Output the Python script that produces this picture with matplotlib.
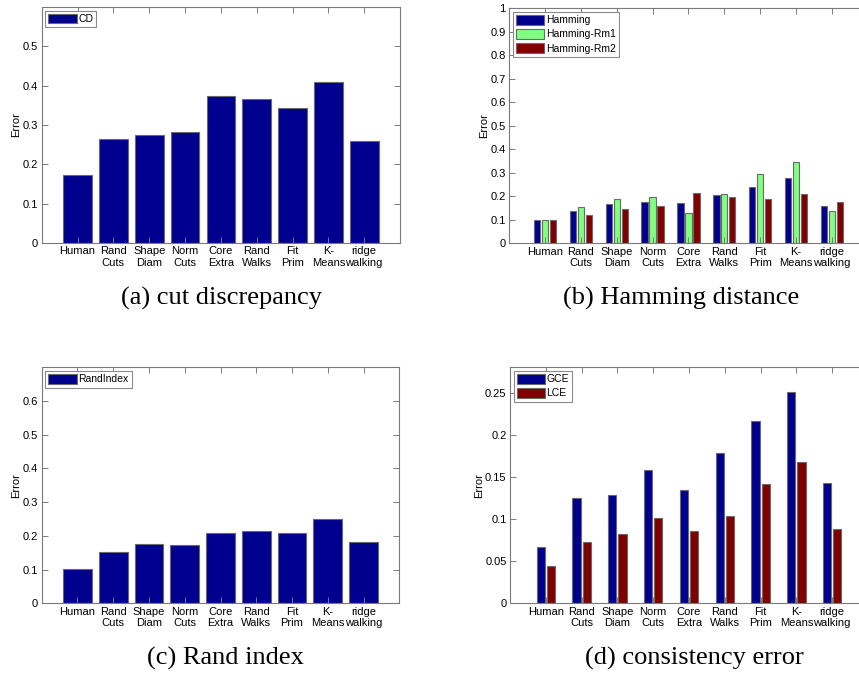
import matplotlib

matplotlib.use("Agg")

import matplotlib.pyplot as plt
import numpy as np
from matplotlib.ticker import FormatStrFormatter

CATEGORIES = ["Human", "Rand\nCuts", "Shape\nDiam", "Norm\nCuts", "Core\nExtra",
              "Rand\nWalks", "Fit\nPrim", "K-\nMeans", "ridge\nwalking"]

CD = [0.173, 0.264, 0.275, 0.283, 0.375, 0.367, 0.342, 0.410, 0.260]

HAMMING = [0.099, 0.136, 0.167, 0.177, 0.170, 0.204, 0.241, 0.278, 0.157]
HAMMING_RM1 = [0.099, 0.153, 0.187, 0.196, 0.128, 0.209, 0.294, 0.345, 0.139]
HAMMING_RM2 = [0.099, 0.119, 0.148, 0.159, 0.213, 0.199, 0.187, 0.211, 0.177]

RAND_INDEX = [0.103, 0.153, 0.176, 0.172, 0.210, 0.213, 0.210, 0.251, 0.181]

GCE = [0.0665, 0.125, 0.129, 0.1586, 0.1345, 0.178, 0.2168, 0.2504, 0.143]
LCE = [0.0443, 0.0728, 0.0823, 0.101, 0.0862, 0.1036, 0.141, 0.1673, 0.0882]

BLUE = "#00008f"
GREEN = "#80ff80"
RED = "#800000"
EDGE = "#6a6a6a"
SPINE = "#7a7a7a"

W, H = 859, 674


def axes_px(fig, left, top, right, bottom):
    return fig.add_axes([left / W, 1 - bottom / H, (right - left) / W, (bottom - top) / H])


def grouped_bars(ax, series, colors, labels):
    x = np.arange(1, len(CATEGORIES) + 1)
    n = len(series)
    if n == 1:
        width, offsets = 0.8, [0.0]
    else:
        group = min(0.8, n / (n + 1.5))
        step = group / n
        width = 0.8 * step
        offsets = (np.arange(n) - (n - 1) / 2) * step
    for vals, color, label, off in zip(series, colors, labels, offsets):
        ax.bar(x + off, vals, width, color=color, edgecolor=EDGE, linewidth=0.8, label=label)


def style(ax, ylim, yticks, fmt="%g"):
    ax.set_xlim(0, 10)
    ax.set_ylim(*ylim)
    ax.set_xticks(np.arange(1, len(CATEGORIES) + 1))
    ax.set_xticklabels(CATEGORIES, linespacing=1.2)
    ax.set_yticks(yticks)
    ax.yaxis.set_major_formatter(FormatStrFormatter(fmt))
    ax.tick_params(direction="in", top=True, right=True, length=4, width=0.7,
                   color=SPINE, labelsize=8, pad=2.5)
    for spine in ax.spines.values():
        spine.set_edgecolor(SPINE)
        spine.set_linewidth(0.8)
    ax.set_ylabel("Error", fontsize=8, labelpad=1)
    ax.legend(loc="upper left", fontsize=7.5, frameon=True, fancybox=False,
              edgecolor="#8a8a8a", framealpha=1, borderaxespad=0.35, borderpad=0.3,
              handlelength=2.7, handleheight=1.05, handletextpad=0.15, labelspacing=0.35)
    ax.get_legend().get_frame().set_linewidth(0.8)


plt.rcParams["font.family"] = ["Liberation Sans", "DejaVu Sans"]

fig = plt.figure(figsize=(W / 100, H / 100), dpi=100)

# (a) cut discrepancy
ax_a = axes_px(fig, 41.7, 7, 400, 243)
grouped_bars(ax_a, [CD], [BLUE], ["CD"])
style(ax_a, (0, 0.6), np.arange(0, 0.51, 0.1))

# (b) Hamming distance
ax_b = axes_px(fig, 509.3, 8.3, 867.6, 243.3)
grouped_bars(ax_b, [HAMMING, HAMMING_RM1, HAMMING_RM2], [BLUE, GREEN, RED],
             ["Hamming", "Hamming-Rm1", "Hamming-Rm2"])
style(ax_b, (0, 1), np.arange(0, 1.01, 0.1))

# (c) Rand index
ax_c = axes_px(fig, 41.7, 367.3, 399.3, 603.3)
grouped_bars(ax_c, [RAND_INDEX], [BLUE], ["RandIndex"])
style(ax_c, (0, 0.7), np.arange(0, 0.61, 0.1))

# (d) consistency error
ax_d = axes_px(fig, 510, 367.3, 868, 603.3)
grouped_bars(ax_d, [GCE, LCE], [BLUE, RED], ["GCE", "LCE"])
style(ax_d, (0, 0.28), np.arange(0, 0.251, 0.05))

captions = [("(a) cut discrepancy", 221, 298), ("(b) Hamming distance", 681, 298),
            ("(c) Rand index", 225, 658), ("(d) consistency error", 694, 658)]
for text, cx, cy in captions:
    fig.text(cx / W, 1 - cy / H, text, ha="center", va="center", fontsize=19,
             family="Liberation Serif")

fig.savefig("out.png", dpi=100)
